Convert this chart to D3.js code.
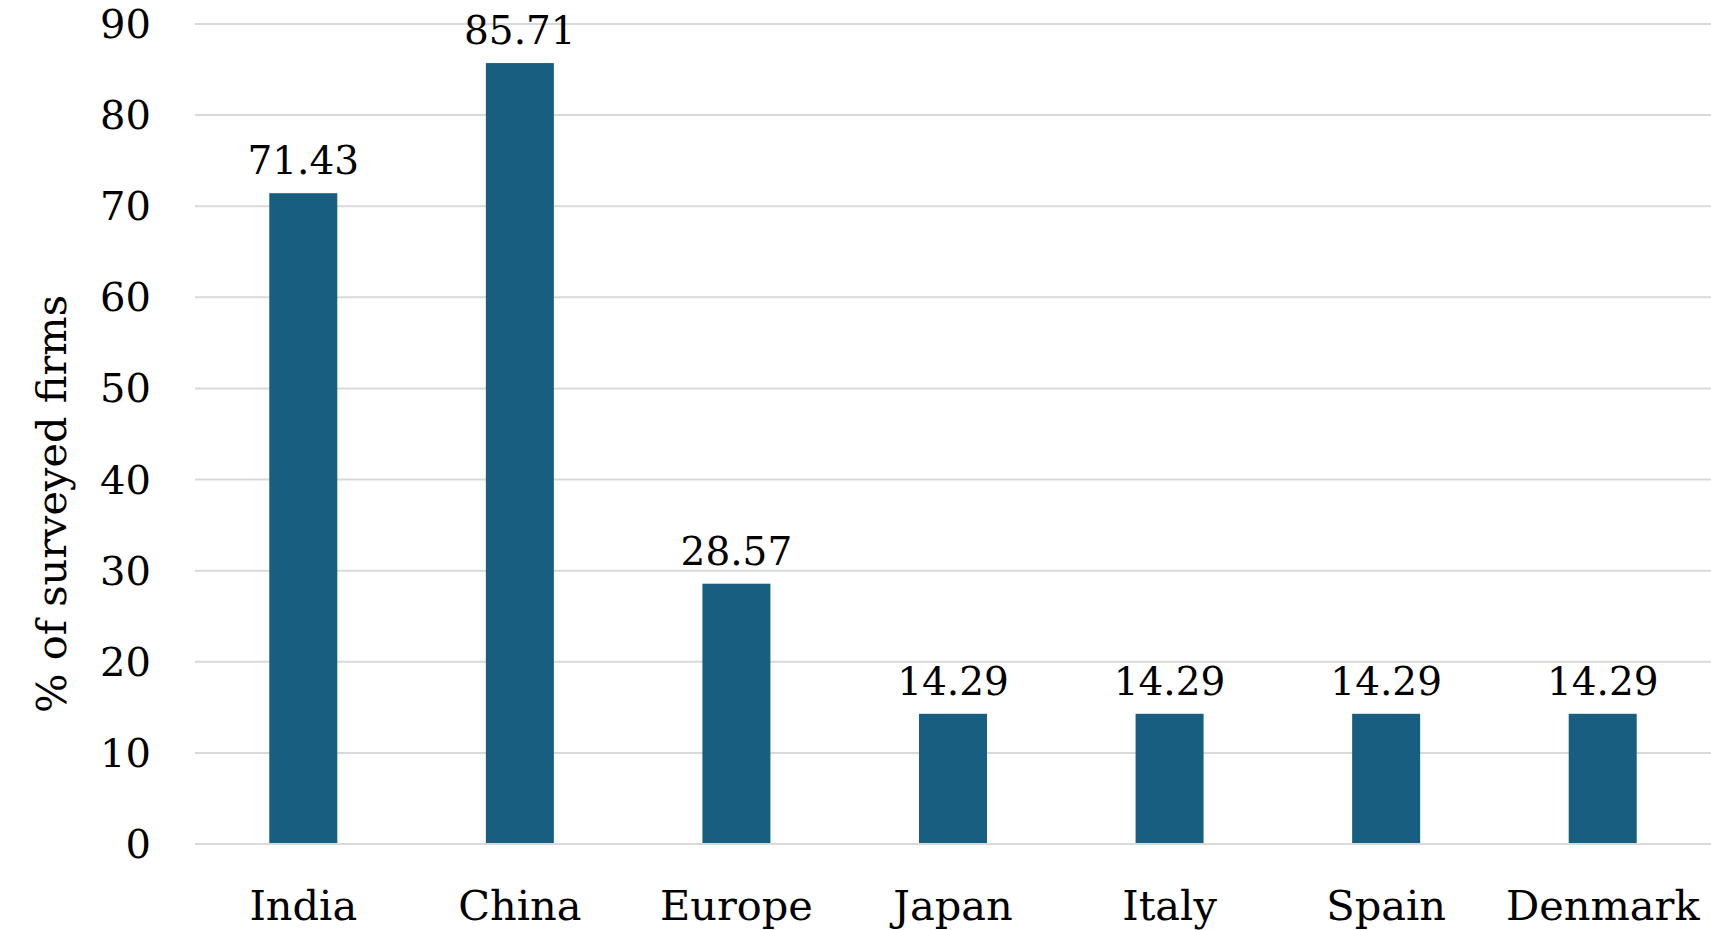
<!DOCTYPE html>
<html>
<head>
<meta charset="utf-8">
<script src="https://cdn.jsdelivr.net/npm/d3@7"></script>
<style>
  html, body { margin: 0; padding: 0; background: #fff; }
  svg text { font-family: Georgia, "DejaVu Serif", serif; fill: #000; }
</style>
</head>
<body>
<svg width="1711" height="930"></svg>
<script>
// данные графика
const categories = ["India", "China", "Europe", "Japan", "Italy", "Spain", "Denmark"];
const values = [71.43, 85.71, 28.57, 14.29, 14.29, 14.29, 14.29];
const yTicks = [0, 10, 20, 30, 40, 50, 60, 70, 80, 90];
const yTitle = "% of surveyed firms";

const svg = d3.select("svg");
const plotLeft = 195, plotRight = 1711, plotTop = 24, plotBottom = 844;

const x = d3.scaleBand()
    .domain(categories)
    .range([plotLeft, plotRight])
    .paddingInner(0.686)
    .paddingOuter(0.343);

const y = d3.scaleLinear()
    .domain([0, 90])
    .range([plotBottom, plotTop]);

// сетка
svg.append("g")
    .selectAll("line")
    .data(yTicks)
    .join("line")
    .attr("x1", plotLeft)
    .attr("x2", plotRight)
    .attr("y1", d => y(d))
    .attr("y2", d => y(d))
    .attr("stroke", "#d9d9d9")
    .attr("stroke-width", 2);

// подписи оси Y
svg.append("g")
    .selectAll("text")
    .data(yTicks)
    .join("text")
    .attr("x", 151)
    .attr("y", d => y(d))
    .attr("text-anchor", "end")
    .attr("dominant-baseline", "central")
    .style("font-size", "40px")
    .text(d => d);

// столбцы
svg.append("g")
    .selectAll("rect")
    .data(values)
    .join("rect")
    .attr("x", (d, i) => x(categories[i]))
    .attr("width", x.bandwidth())
    .attr("y", d => y(d))
    .attr("height", d => y(0) - y(d) - 1)
    .attr("fill", "#185e80");

// значения над столбцами
svg.append("g")
    .selectAll("text")
    .data(values)
    .join("text")
    .attr("x", (d, i) => x(categories[i]) + x.bandwidth() / 2)
    .attr("y", d => y(d) - 19)
    .attr("text-anchor", "middle")
    .style("font-size", "39px")
    .text(d => d.toFixed(2));

// подписи категорий
svg.append("g")
    .selectAll("text")
    .data(categories)
    .join("text")
    .attr("x", d => x(d) + x.bandwidth() / 2)
    .attr("y", 920)
    .attr("text-anchor", "middle")
    .style("font-size", "41.5px")
    .text(d => d);

// заголовок оси Y
svg.append("text")
    .attr("transform", `translate(66, ${(plotTop + plotBottom) / 2 + 70}) rotate(-90)`)
    .attr("text-anchor", "middle")
    .style("font-size", "41.5px")
    .text(yTitle);
</script>
</body>
</html>
